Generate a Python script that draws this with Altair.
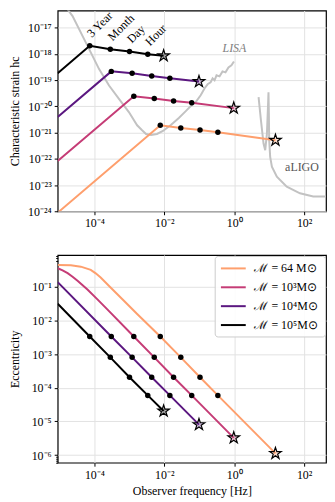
import altair as alt
import pandas as pd

SERIF = "Liberation Serif"

# ---------------- data ----------------
mass_labels = ["ℳ = 64  M⊙", "ℳ = 10³M⊙", "ℳ = 10⁴M⊙", "ℳ = 10⁵M⊙"]
mass_colors = ["#fe9f6d", "#c53c76", "#5b1780", "#000000"]
epoch_labels = ["3 Year", "Month", "Day", "Hour"]

f_edge = 8.9e-6          # left edge of the frequency range [Hz]
f_right = 422.0          # right edge of the frequency range [Hz]

# observer frequency at 3 yr / month / day / hour before merger  [Hz]
freq_64 = [7.66e-3, 2.96e-2, 0.105, 0.340]
freq_1e3 = [1.34e-3, 5.16e-3, 1.84e-2, 6.08e-2]
freq_1e4 = [3.04e-4, 1.20e-3, 4.36e-3, 1.44e-2]
freq_1e5 = [7.35e-5, 2.85e-4, 1.01e-3, 3.36e-3]
merger_freq = [15.1, 0.968, 9.8e-2, 9.55e-3]

# characteristic strain
strain_start = [8.83e-25, 8.18e-23, 3.90e-21, 1.81e-19]
strain_64 = [1.89e-21, 1.49e-21, 1.25e-21, 1.03e-21]
strain_1e3 = [2.43e-20, 1.99e-20, 1.61e-20, 1.36e-20]
strain_1e4 = [2.15e-19, 1.81e-19, 1.43e-19, 1.17e-19]
strain_1e5 = [2.03e-18, 1.51e-18, 1.23e-18, 9.75e-19]
merger_strain = [5.11e-22, 8.55e-21, 8.77e-20, 8.47e-19]

# eccentricity
ecc_marks = [3.34e-3, 8.02e-4, 2.06e-4, 5.93e-5]
merger_ecc = [1.12e-6, 3.25e-6, 8.04e-6, 2.04e-5]
early_f_64 = [8.9e-6, 2.12e-5, 4.08e-5, 7.85e-5, 1.09e-4, 1.51e-4, 2.90e-4, 6.98e-4, 1.67e-3]
early_e_64 = [0.447, 0.438, 0.397, 0.318, 0.251, 0.188, 9.53e-2, 3.86e-2, 1.56e-2]
early_f_1e3 = [8.9e-6, 1.23e-5, 1.71e-5, 2.37e-5, 3.29e-5, 6.32e-5, 1.22e-4, 2.34e-4]
early_e_1e3 = [0.356, 0.309, 0.254, 0.200, 0.151, 8.32e-2, 4.22e-2, 2.14e-2]
early_f_1e4 = [8.9e-6]
early_e_1e4 = [0.138]
early_f_1e5 = [8.9e-6]
early_e_1e5 = [3.15e-2]

# detector sensitivity curves
lisa_f = [1.233e-5, 2.371e-5, 4.56e-5, 7.06e-5, 1.361e-4, 2.618e-4, 5.035e-4, 9.68e-4,
          1.667e-3, 2.312e-3, 3.0e-3, 4.16e-3, 6.17e-3, 9.12e-3, 1.538e-2, 2.60e-2,
          4.11e-2, 5.70e-2, 7.91e-2, 0.1096, 0.1422, 0.1734, 0.2109, 0.2404, 0.2735,
          0.3119, 0.3802, 0.4624, 0.5623, 0.6839, 0.8318, 0.9795]
lisa_h = [8.85e-17, 2.77e-17, 4.85e-18, 1.51e-18, 2.63e-19, 6.19e-20, 1.92e-20, 6.03e-21,
          1.89e-21, 1.22e-21, 8.85e-22, 8.11e-22, 8.85e-22, 1.15e-21, 1.94e-21, 3.57e-21,
          6.58e-21, 1.02e-20, 1.44e-20, 2.65e-20, 4.89e-20, 6.93e-20, 8.26e-20, 1.17e-19,
          9.82e-20, 1.52e-19, 1.39e-19, 2.15e-19, 1.97e-19, 3.05e-19, 3.64e-19, 5.15e-19]
aligo_f = [4.97, 5.81, 6.89, 7.69, 8.61, 9.38, 9.55, 9.79, 10.0, 10.67, 11.94, 16.56,
           31.8, 76.0, 181.6, 435.5, 604.0, 671.0]
aligo_h = [2.23e-20, 2.92e-21, 3.80e-22, 2.14e-22, 9.08e-22, 1.67e-20, 3.45e-20, 5.20e-21,
           5.11e-22, 1.19e-22, 4.98e-23, 2.08e-23, 8.69e-24, 4.85e-24, 3.64e-24, 3.64e-24,
           4.60e-24, 5.62e-24]

# ---------------- tables ----------------
epoch_freq = [freq_64, freq_1e3, freq_1e4, freq_1e5]
epoch_strain = [strain_64, strain_1e3, strain_1e4, strain_1e5]
early_f = [early_f_64, early_f_1e3, early_f_1e4, early_f_1e5]
early_e = [early_e_64, early_e_1e3, early_e_1e4, early_e_1e5]

strain_rows, ecc_rows, mark_rows, merge_rows = [], [], [], []
for i, m in enumerate(mass_labels):
    pts = [(f_edge, strain_start[i])] + list(zip(epoch_freq[i], epoch_strain[i])) + \
          [(merger_freq[i], merger_strain[i])]
    for k, (f, h) in enumerate(pts):
        strain_rows.append(dict(mass=m, f=f, v=h, o=k))
    epts = list(zip(early_f[i], early_e[i])) + list(zip(epoch_freq[i], ecc_marks)) + \
           [(merger_freq[i], merger_ecc[i])]
    for k, (f, e) in enumerate(epts):
        ecc_rows.append(dict(mass=m, f=f, v=e, o=k))
    for j in range(4):
        mark_rows.append(dict(mass=m, f=epoch_freq[i][j], h=epoch_strain[i][j],
                              e=ecc_marks[j], lab=epoch_labels[j]))
    merge_rows.append(dict(mass=m, f=merger_freq[i], h=merger_strain[i], e=merger_ecc[i]))

strain_df = pd.DataFrame(strain_rows)
ecc_df = pd.DataFrame(ecc_rows)
marks_df = pd.DataFrame(mark_rows)
merge_df = pd.DataFrame(merge_rows)
label_df = marks_df[marks_df["mass"] == mass_labels[3]]
lisa_df = pd.DataFrame(dict(f=lisa_f, v=lisa_h, o=range(len(lisa_f))))
aligo_df = pd.DataFrame(dict(f=aligo_f, v=aligo_h, o=range(len(aligo_f))))

# ---------------- axes / scales ----------------
SUP = str.maketrans("-0123456789", "⁻⁰¹²³⁴⁵⁶⁷⁸⁹")
EXP = "round(log(datum.value)/LN10)"
MINOR = f"abs(log(datum.value)/LN10 - {EXP}) > 0.01"


def pow_label(exps):
    s = f"{MINOR} ? '' : "
    for e in exps:
        s += f"{EXP} == {e} ? '10{str(e).translate(SUP)}' : "
    return s + "''"


W = 270
H_TOP = 202
H_BOT = 209

x_scale = alt.Scale(type="log", domain=[f_edge, f_right], nice=False)
y_top_scale = alt.Scale(type="log", domain=[1e-24, 4.49e-17], nice=False)
y_bot_scale = alt.Scale(type="log", domain=[5.94e-7, 0.881], nice=False)

x_vals = [1e-4, 1e-2, 1, 1e2]
common_axis = dict(grid=True, gridColor="#e2e2e2", gridWidth=1, domain=False,
                   tickColor="black", tickWidth=1, labelFont=SERIF, labelFontSize=12,
                   labelColor="black", labelPadding=3, labelFlush=False, labelOverlap=False,
                   titleFont=SERIF, titleFontSize=12, titleFontWeight="normal",
                   titleColor="black")

x_axis_top = alt.Axis(values=x_vals, labelExpr=pow_label([-4, -2, 0, 2]), title=None,
                      tickSize=3.5, **common_axis)
x_axis_bot = alt.Axis(values=x_vals, labelExpr=pow_label([-4, -2, 0, 2]),
                      title="Observer frequency [Hz]", titlePadding=6, tickSize=3.5,
                      **common_axis)
y_axis_top = alt.Axis(values=[10.0 ** k for k in range(-24, -16)],
                      labelExpr=pow_label(list(range(-24, -16))),
                      title="Characteristic strain hc", titleX=-36, titleY=H_TOP / 2,
                      titleBaseline="bottom", tickSize=3.5, **common_axis)
bot_minor = [6e-7, 7e-7, 8e-7, 9e-7, 0.6, 0.7, 0.8]
y_axis_bot = alt.Axis(values=[10.0 ** k for k in range(-6, 0)] + bot_minor,
                      labelExpr=pow_label(list(range(-6, 0))),
                      title="Eccentricity", titleX=-36, titleY=H_BOT / 2,
                      titleBaseline="bottom",
                      tickSize={"condition": {"test": MINOR, "value": 2}, "value": 3.5},
                      gridOpacity={"condition": {"test": MINOR, "value": 0}, "value": 1},
                      **common_axis)

color_nolegend = alt.Color("mass:N", scale=alt.Scale(domain=mass_labels, range=mass_colors),
                           legend=None)
STAR = "M0,-1L0.2245,-0.309L0.951,-0.309L0.363,0.118L0.588,0.809L0,0.382L-0.588,0.809L-0.363,0.118L-0.951,-0.309L-0.2245,-0.309Z"
GRAY = "#c2c2c2"

# ---------------- top panel ----------------
xt = alt.X("f:Q", scale=x_scale, axis=x_axis_top)
yt = alt.Y("v:Q", scale=y_top_scale, axis=y_axis_top)

lisa = alt.Chart(lisa_df).mark_line(color=GRAY, strokeWidth=2, clip=True).encode(
    x=xt, y=yt, order="o:Q")
aligo = alt.Chart(aligo_df).mark_line(color=GRAY, strokeWidth=2, clip=True).encode(
    x=xt, y=yt, order="o:Q")
strain_lines = alt.Chart(strain_df).mark_line(strokeWidth=2, clip=True).encode(
    x=xt, y=yt, color=color_nolegend, order="o:Q")
strain_dots = alt.Chart(marks_df).mark_circle(size=30, color="black", opacity=1).encode(
    x=alt.X("f:Q", scale=x_scale), y=alt.Y("h:Q", scale=y_top_scale))
strain_stars = alt.Chart(merge_df).mark_point(shape=STAR, size=150, filled=True, opacity=1,
                                              fillOpacity=0.3, stroke="black",
                                              strokeWidth=1.2).encode(
    x=alt.X("f:Q", scale=x_scale), y=alt.Y("h:Q", scale=y_top_scale), fill=color_nolegend)
epoch_text = alt.Chart(label_df).mark_text(angle=315, align="left", baseline="alphabetic",
                                            dx=7, dy=-4, font=SERIF, fontSize=12,
                                            color="black", clip=True).encode(
    x=alt.X("f:Q", scale=x_scale), y=alt.Y("h:Q", scale=y_top_scale), text="lab:N")
lisa_text = alt.Chart(pd.DataFrame(dict(f=[0.462], h=[1.13e-18], t=["LISA"]))).mark_text(
    align="left", baseline="alphabetic", font=SERIF, fontSize=12, fontStyle="italic",
    color="#808080").encode(x=alt.X("f:Q", scale=x_scale), y=alt.Y("h:Q", scale=y_top_scale),
                           text="t:N")
aligo_text = alt.Chart(pd.DataFrame(dict(f=[28.5], h=[3.51e-23], t=["aLIGO"]))).mark_text(
    align="left", baseline="alphabetic", font=SERIF, fontSize=12,
    color="#555555").encode(x=alt.X("f:Q", scale=x_scale), y=alt.Y("h:Q", scale=y_top_scale),
                           text="t:N")

top = alt.layer(lisa, aligo, strain_lines, strain_dots, strain_stars, epoch_text,
                lisa_text, aligo_text).properties(width=W, height=H_TOP)

# ---------------- bottom panel ----------------
xb = alt.X("f:Q", scale=x_scale, axis=x_axis_bot)
yb = alt.Y("v:Q", scale=y_bot_scale, axis=y_axis_bot)
color_legend = alt.Color(
    "mass:N", scale=alt.Scale(domain=mass_labels, range=mass_colors),
    legend=alt.Legend(title=None, orient="none", legendX=158, legendY=1,
                      symbolType="M-1,0H3", symbolSize=156, symbolStrokeWidth=2,
                      labelOffset=20, labelFont=SERIF, labelFontSize=12, labelColor="black",
                      rowPadding=5, padding=5, fillColor="rgba(255,255,255,0.85)",
                      strokeColor="#cccccc", cornerRadius=3))

ecc_lines = alt.Chart(ecc_df).mark_line(strokeWidth=2, clip=True).encode(
    x=xb, y=yb, color=color_legend, order="o:Q")
ecc_dots = alt.Chart(marks_df).mark_circle(size=30, color="black", opacity=1).encode(
    x=alt.X("f:Q", scale=x_scale), y=alt.Y("e:Q", scale=y_bot_scale))
ecc_stars = alt.Chart(merge_df).mark_point(shape=STAR, size=150, filled=True, opacity=1,
                                           fillOpacity=0.3, stroke="black",
                                           strokeWidth=1.2).encode(
    x=alt.X("f:Q", scale=x_scale), y=alt.Y("e:Q", scale=y_bot_scale),
    fill=alt.Color("mass:N", scale=alt.Scale(domain=mass_labels, range=mass_colors),
                   legend=None))

bottom = alt.layer(ecc_lines, ecc_dots, ecc_stars).properties(width=W, height=H_BOT)

chart = alt.vconcat(top, bottom, spacing=19).resolve_scale(color="independent").properties(
    padding={"left": 0, "top": 0, "right": 0, "bottom": 0}
).configure_view(stroke="black", strokeWidth=1.2)

chart.save("out.html", embed_options={"renderer": "svg", "actions": False})
